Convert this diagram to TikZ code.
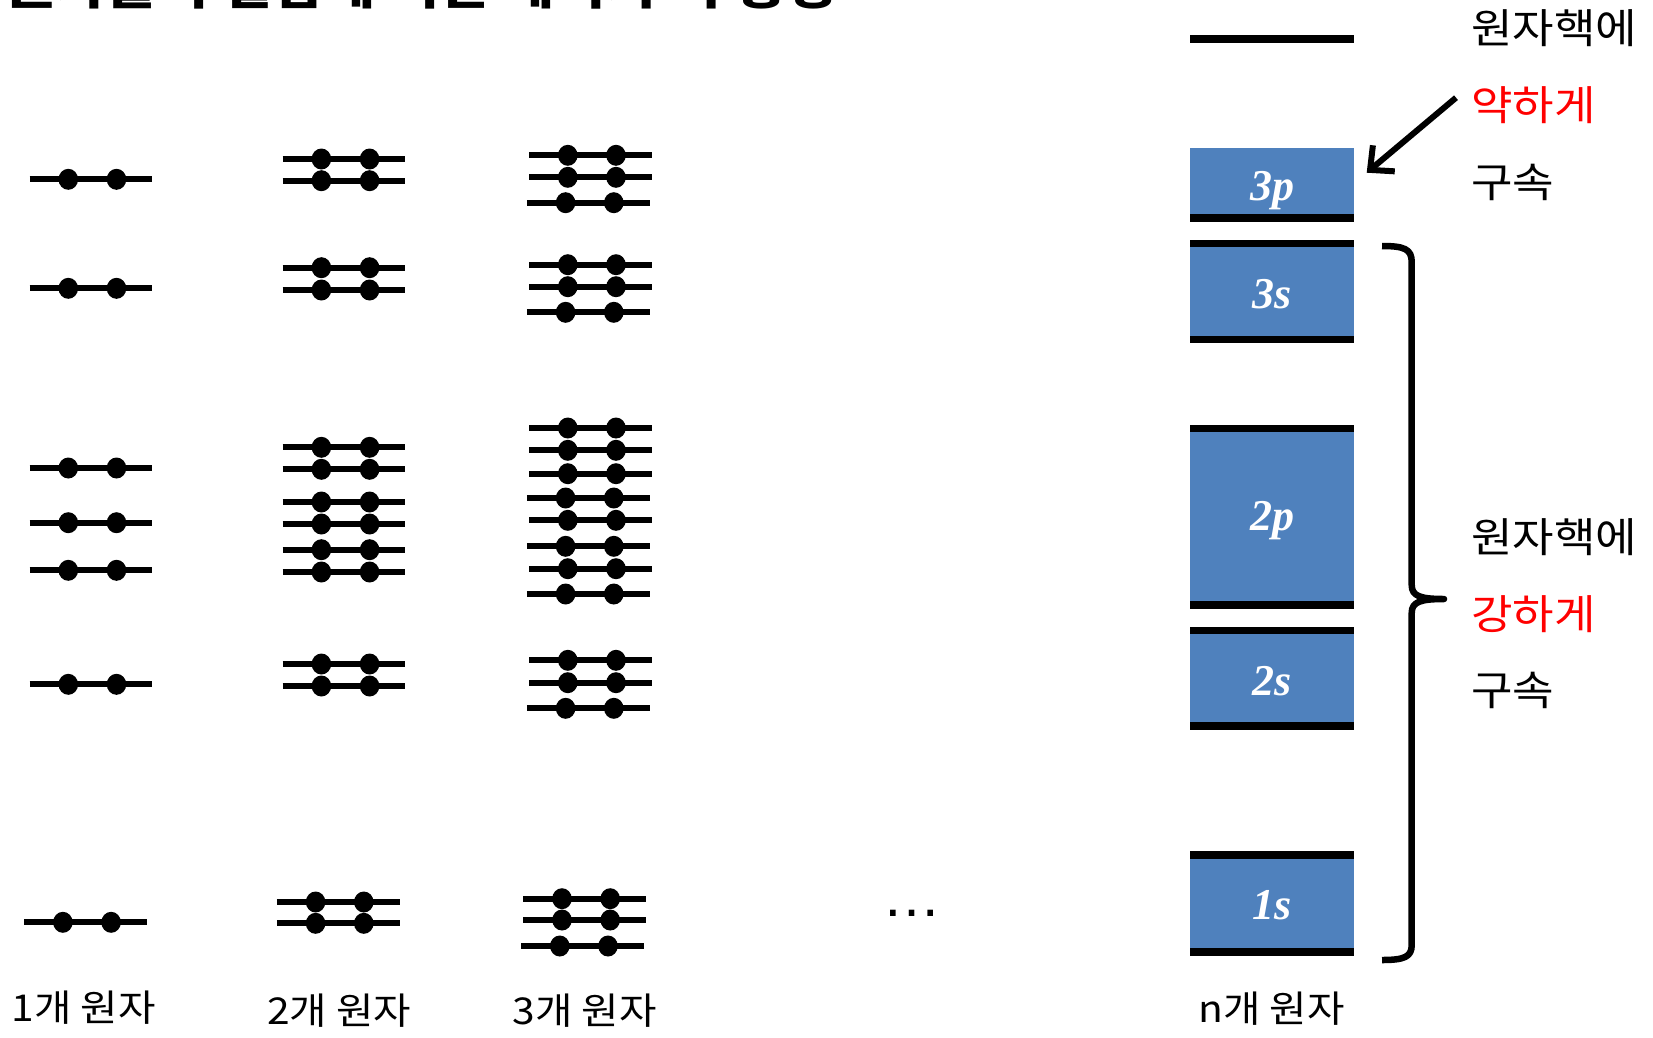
\documentclass[tikz,border=0pt]{standalone}
\usepackage{fontspec}
\newfontfamily\kr[FakeStretch=1.1]{Noto Sans CJK KR}
\newfontfamily\krt[FakeStretch=1.16]{Noto Sans CJK KR}
\newfontfamily\tnr{Liberation Serif}
\newfontfamily\lsans{Liberation Sans}
\usetikzlibrary{arrows.meta}
\definecolor{bandblue}{HTML}{4F81BD}
\definecolor{krred}{HTML}{FF0000}
\newcommand\orb[2]{%
  \draw[orbline] (#1,#2) -- ++(122.8,0);
  \fill (#1+38.8,#2) ellipse (9.8 and 10.5);
  \fill (#1+87,#2) ellipse (9.8 and 10.5);}
\begin{document}
\begin{tikzpicture}[x=1pt,y=-1pt,
  orbline/.style={line width=6pt},
  edge/.style={fill=black},
  blue/.style={fill=bandblue},
  lbl/.style={text=white,font=\tnr\bfseries\itshape\fontsize{44}{44}\selectfont},
  krtxt/.style={font=\kr\fontsize{41}{41}\selectfont,anchor=west,inner sep=0pt},
  bottomtxt/.style={font=\kr\fontsize{37}{37}\selectfont,inner sep=0pt}]
\useasboundingbox (0,0) rectangle (1653,1037);
\fill[white] (0,0) rectangle (1653,1037);

% cut-off title
\node[anchor=base west,font=\krt\bfseries\fontsize{48}{48}\selectfont,inner sep=0pt] (title) at (4,4) {원자들의 결합에 의한 에너지 띠 형성};

% column 1
\foreach \y in {179.3,288.3,468,522.7,570.3,684.3} {\orb{29.5}{\y}}
\orb{24.1}{922.3}
% column 2
\foreach \y in {159,180.7,267.7,290,447.3,469.3,502,524,549.7,572,664,686} {\orb{282.6}{\y}}
\foreach \y in {902,923.3} {\orb{276.8}{\y}}
% column 3
\foreach \y in {155.3,177.3,264.7,286.7,428,450.3,473.7,520.3,568.7,660.3,682.7} {\orb{529}{\y}}
\foreach \y in {202.7,312.3,498,546.3,594,708.3} {\orb{526.8}{\y}}
\foreach \y in {898.7,920} {\orb{523.2}{\y}}
\orb{521}{946}

% dots
\node[anchor=base,font=\lsans\fontsize{59}{59}\selectfont,inner sep=0pt] (ell) at (912.3,916) {…};

% bands
\fill[edge] (1190,35) rectangle (1354,43);
\fill[blue] (1190,147.7) rectangle (1354,214.3);
\fill[edge] (1190,214.3) rectangle (1354,222.3);
\node[lbl] (p3) at (1272,191) {3p};

\fill[edge] (1190,240) rectangle (1354,247.3);
\fill[blue] (1190,247.3) rectangle (1354,336);
\fill[edge] (1190,336) rectangle (1354,343.3);
\node[lbl] (s3) at (1272,294) {3s};

\fill[edge] (1190,424.7) rectangle (1354,432);
\fill[blue] (1190,432) rectangle (1354,601.3);
\fill[edge] (1190,601.3) rectangle (1354,609);
\node[lbl] (p2) at (1272,521) {2p};

\fill[edge] (1190,626.7) rectangle (1354,634);
\fill[blue] (1190,634) rectangle (1354,722.3);
\fill[edge] (1190,722.3) rectangle (1354,730);
\node[lbl] (s2) at (1272,681) {2s};

\fill[edge] (1190,850.7) rectangle (1354,858.7);
\fill[blue] (1190,858.7) rectangle (1354,948);
\fill[edge] (1190,948) rectangle (1354,955.7);
\node[lbl] (s1) at (1272,905) {1s};

% right texts
\node[krtxt] (t1) at (1471,28) {원자핵에};
\node[krtxt,text=krred] (t2) at (1471,105) {약하게};
\node[krtxt] (t3) at (1471,182.5) {구속};
\node[krtxt] (t4) at (1471,537.5) {원자핵에};
\node[krtxt,text=krred] (t5) at (1471,614) {강하게};
\node[krtxt] (t6) at (1471,690) {구속};

% arrow
\coordinate (aS) at (1456,97.7);
\coordinate (aE) at (1366.7,172.7);
\draw[line width=6pt,-{Straight Barb[length=18pt,width=34pt,line width=6pt]}] (aS) -- (aE);

% brace
\draw[line width=6.5pt,line join=round] (1382,246) .. controls (1404,246) and (1411.7,249) .. (1411.7,262)
  -- (1411.7,585) .. controls (1411.7,596) and (1420,599) .. (1444,599)
  .. controls (1420,599) and (1411.7,602) .. (1411.7,613)
  -- (1411.7,945) .. controls (1411.7,957) and (1404,960) .. (1382,960);

% bottom labels
\node[bottomtxt] (c1) at (83.7,1008) {1개 원자};
\node[bottomtxt] (c2) at (339.3,1011) {2개 원자};
\node[bottomtxt] (c3) at (584.8,1011) {3개 원자};
\node[bottomtxt] (cn) at (1271.5,1009) {n개 원자};
\end{tikzpicture}
\end{document}
